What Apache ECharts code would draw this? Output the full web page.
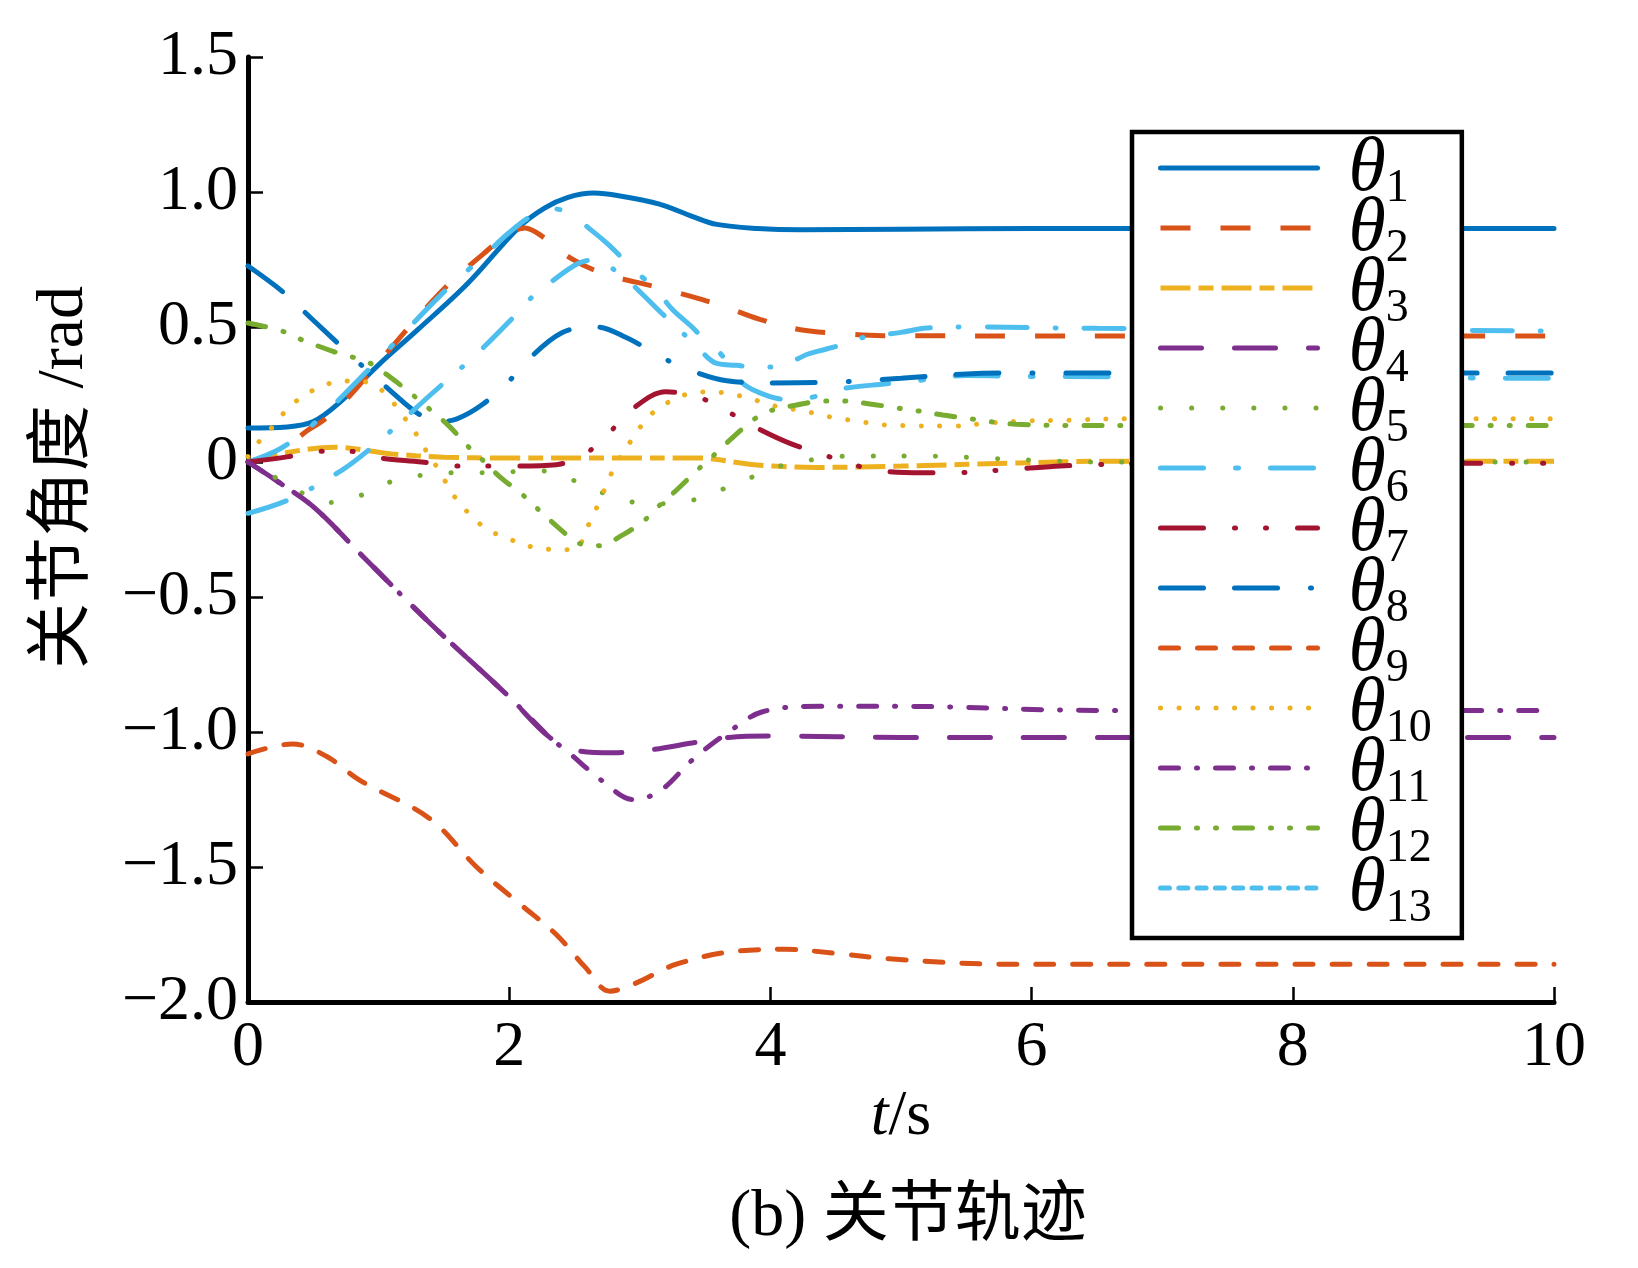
<!DOCTYPE html>
<html lang="zh">
<head>
    <meta charset="UTF-8">
    <title>关节轨迹</title>
    <script src="https://cdn.jsdelivr.net/npm/echarts@6/dist/echarts.min.js"></script>
    <style>
        html, body { margin: 0; padding: 0; background: #fff; }
        #chart { width: 1638px; height: 1268px; }
    </style>
</head>
<body>
<div id="chart"></div>
<script type="text/javascript">
    // 各关节角度 [t(s), rad]
    var theta1 = [[0,0.126],[0.3,0.13],[0.5,0.15],[0.7,0.22],[1.0,0.36],[1.3,0.49],[1.68,0.66],[2.07,0.867],[2.27,0.94],[2.45,0.98],[2.65,0.996],[2.85,0.985],[3.15,0.955],[3.4,0.91],[3.59,0.88],[3.9,0.865],[4.23,0.86],[5,0.862],[6,0.865],[10,0.865]];
    var theta2 = [[0,0],[0.25,0.04],[0.45,0.115],[0.57,0.152],[0.72,0.215],[0.95,0.34],[1.27,0.52],[1.54,0.66],[1.8,0.77],[1.98,0.84],[2.12,0.867],[2.27,0.83],[2.47,0.755],[2.71,0.70],[3.15,0.645],[3.59,0.585],[3.92,0.528],[4.23,0.49],[4.56,0.475],[4.86,0.468],[6,0.467],[10,0.467]];
    var theta3 = [[0,0],[0.3,0.035],[0.66,0.055],[1.1,0.03],[1.5,0.018],[2,0.015],[3.44,0.015],[3.84,-0.008],[4.03,-0.015],[4.35,-0.02],[5,-0.015],[5.89,-0.004],[6.6,0.003],[10,0.003]];
    var theta4 = [[0,0],[0.22,-0.07],[0.51,-0.17],[0.86,-0.34],[1.4,-0.6],[2.0,-0.87],[2.31,-1.02],[2.53,-1.07],[2.8,-1.077],[3.1,-1.065],[3.41,-1.04],[3.68,-1.02],[4.03,-1.015],[5,-1.02],[10,-1.02]];
    var theta5 = [[0,0],[0.19,-0.052],[0.41,-0.114],[0.63,-0.15],[0.85,-0.126],[1.07,-0.077],[1.29,-0.052],[1.51,-0.04],[1.77,-0.04],[2.24,-0.033],[2.47,-0.064],[2.68,-0.107],[2.9,-0.144],[3.12,-0.155],[3.38,-0.144],[3.6,-0.107],[3.82,-0.064],[4.04,-0.02],[4.27,0.004],[4.5,0.02],[4.74,0.022],[5.2,0.022],[5.7,0.013],[6.0,0.007],[6.5,0],[10,0]];
    var theta6 = [[0,0],[0.25,0.05],[0.5,0.14],[1.0,0.38],[1.5,0.63],[1.8,0.76],[2.0,0.85],[2.2,0.92],[2.35,0.937],[2.5,0.91],[2.6,0.87],[2.76,0.805],[2.96,0.71],[3.12,0.64],[3.25,0.565],[3.4,0.5],[3.52,0.44],[3.62,0.4],[3.77,0.3],[3.9,0.26],[4.1,0.233],[4.32,0.24],[4.53,0.27],[4.89,0.29],[5.1,0.3],[5.5,0.32],[6,0.317],[10,0.31]];
    var theta7 = [[0,0],[0.31,0.02],[0.54,0.04],[0.77,0.04],[1.01,0.015],[1.33,0],[1.57,-0.015],[2.07,-0.015],[2.36,-0.01],[2.5,0.01],[2.6,0.035],[2.77,0.11],[2.94,0.195],[3.2,0.26],[3.45,0.24],[3.66,0.19],[3.88,0.13],[4.16,0.067],[4.39,0.03],[4.61,-0.007],[4.86,-0.033],[5.17,-0.04],[5.41,-0.04],[5.66,-0.033],[5.89,-0.026],[6.22,-0.015],[6.45,-0.01],[7,-0.005],[10,-0.005]];
    var theta8 = [[0,0.726],[0.26,0.633],[0.5,0.525],[0.85,0.367],[1.1,0.26],[1.3,0.18],[1.45,0.15],[1.6,0.16],[1.8,0.215],[2.0,0.3],[2.12,0.367],[2.4,0.478],[2.67,0.50],[2.9,0.46],[3.14,0.396],[3.33,0.35],[3.68,0.3],[4.0,0.293],[4.5,0.296],[5.0,0.31],[5.5,0.326],[6,0.33],[10,0.33]];
    var theta9 = [[0,-1.081],[0.34,-1.044],[0.6,-1.09],[0.86,-1.18],[1.39,-1.32],[1.75,-1.50],[2.09,-1.64],[2.36,-1.75],[2.58,-1.87],[2.77,-1.96],[2.97,-1.93],[3.28,-1.86],[3.77,-1.81],[4.12,-1.805],[4.5,-1.82],[4.91,-1.84],[5.79,-1.86],[10,-1.86]];
    var theta10 = [[0,0.02],[0.07,0.067],[0.18,0.126],[0.31,0.2],[0.44,0.25],[0.57,0.28],[0.7,0.3],[0.85,0.3],[0.98,0.28],[1.08,0.24],[1.17,0.18],[1.26,0.126],[1.33,0.067],[1.48,-0.044],[1.55,-0.107],[1.64,-0.163],[1.73,-0.21],[1.85,-0.255],[1.98,-0.28],[2.1,-0.305],[2.24,-0.32],[2.39,-0.325],[2.52,-0.32],[2.58,-0.26],[2.64,-0.2],[2.7,-0.137],[2.75,-0.078],[2.81,-0.015],[2.89,0.048],[2.97,0.104],[3.05,0.16],[3.15,0.2],[3.28,0.237],[3.41,0.256],[3.56,0.26],[3.71,0.25],[3.84,0.237],[3.97,0.215],[4.11,0.2],[4.25,0.19],[4.39,0.174],[4.53,0.16],[4.67,0.152],[4.81,0.14],[5.0,0.135],[5.4,0.133],[5.66,0.144],[5.94,0.152],[6.3,0.155],[6.64,0.16],[10,0.16]];
    var theta11 = [[0,0],[0.22,-0.07],[0.51,-0.17],[0.86,-0.34],[1.4,-0.6],[2.0,-0.87],[2.31,-1.02],[2.44,-1.07],[2.71,-1.18],[2.95,-1.25],[3.15,-1.22],[3.41,-1.10],[3.68,-1.0],[3.94,-0.925],[4.38,-0.905],[5,-0.905],[6.5,-0.92],[10,-0.92]];
    var theta12 = [[0,0.515],[0.26,0.485],[0.4,0.455],[0.65,0.41],[0.79,0.39],[0.92,0.37],[1.1,0.31],[1.27,0.245],[1.38,0.2],[1.54,0.133],[1.68,0.06],[1.78,0.015],[1.94,-0.06],[2.1,-0.12],[2.21,-0.17],[2.37,-0.24],[2.53,-0.3],[2.68,-0.31],[2.87,-0.27],[3.05,-0.21],[3.13,-0.17],[3.29,-0.1],[3.44,-0.03],[3.56,0.022],[3.71,0.09],[3.88,0.16],[4.0,0.19],[4.19,0.21],[4.41,0.226],[4.55,0.226],[4.76,0.215],[4.97,0.2],[5.12,0.19],[5.32,0.174],[5.53,0.16],[5.67,0.15],[5.88,0.14],[6.3,0.135],[10,0.135]];
    var theta13 = [[0,-0.19],[0.32,-0.138],[0.72,-0.03],[0.98,0.067],[1.16,0.144],[1.4,0.25],[1.75,0.40],[2.0,0.52],[2.15,0.6],[2.33,0.67],[2.52,0.733],[2.64,0.748],[2.85,0.696],[3.01,0.626],[3.17,0.55],[3.42,0.437],[3.59,0.365],[3.74,0.358],[3.9,0.35],[4.1,0.36],[4.29,0.4],[4.49,0.426],[4.7,0.46],[5.0,0.48],[5.2,0.496],[5.5,0.5],[6.5,0.495],[10,0.485]];

    var seriesNames = ['θ1','θ2','θ3','θ4','θ5','θ6','θ7','θ8','θ9','θ10','θ11','θ12','θ13'];
    var seriesData = [theta1, theta2, theta3, theta4, theta5, theta6, theta7, theta8, theta9, theta10, theta11, theta12, theta13];

    // MATLAB 默认配色
    var colors = ['#0072BD','#D95319','#EDB120','#7E2F8E','#77AC30','#4DBEEE','#A2142F',
                  '#0072BD','#D95319','#EDB120','#7E2F8E','#77AC30','#4DBEEE'];
    var dashes = ['solid', [30,30], [30,8,15,8], [41,33], [0.1,31], [43,32,3,32], [43,31,1,30,1,31],
                  [43,31,43,33,1,33], [18,19], [0.1,18.4], [18,18,1,18], [18,18,1,18,1,18], [40,28,1,28]];
    var caps = ['round','butt','butt','round','round','round','round','round','round','round','round','round','round'];

    var serif = "'Liberation Serif', 'Noto Sans CJK SC'";

    var myChart = echarts.init(document.getElementById('chart'));

    var series = [];
    for (var i = 0; i < seriesData.length; i++) {
        series.push({
            name: seriesNames[i],
            type: 'line',
            data: seriesData[i],
            symbol: 'none',
            smooth: 0.35,
            lineStyle: { color: colors[i], width: 5, type: dashes[i], cap: caps[i] },
            itemStyle: { color: colors[i] }
        });
    }

    var legendData = seriesNames.map(function (n, i) {
        if (i === 12) return { name: n, lineStyle: { type: [9, 9.3] } };
        return n;
    });

    myChart.setOption({
        animation: false,
        title: {
            text: '(b) 关节轨迹',
            left: 903,
            top: 1180,
            textAlign: 'center',
            textStyle: { fontFamily: serif, fontSize: 66, fontWeight: 'normal', color: '#000' }
        },
        grid: { left: 248, right: 84, top: 57, bottom: 266, containLabel: false },
        legend: {
            orient: 'vertical',
            left: 1132,
            top: 132,
            data: legendData,
            selectedMode: false,
            itemWidth: 157,
            itemHeight: 10,
            itemGap: -20,
            padding: [0, 30, 6, 26],
            borderColor: '#000',
            borderWidth: 4.5,
            backgroundColor: '#fff',
            lineStyle: { width: 5 },
            itemStyle: { color: 'rgba(0,0,0,0)', borderColor: 'rgba(0,0,0,0)', borderWidth: 0, opacity: 0 },
            formatter: function (n) { return '{t|θ}{s|' + n.slice(1) + '}'; },
            textStyle: {
                color: '#000',
                rich: {
                    t: { fontFamily: serif, fontStyle: 'italic', fontSize: 76, verticalAlign: 'top', padding: [8, 0, 4, 26], color: '#000' },
                    s: { fontFamily: serif, fontSize: 46, verticalAlign: 'bottom', color: '#000' }
                }
            }
        },
        xAxis: {
            type: 'value',
            min: 0,
            max: 10,
            interval: 2,
            name: '{i|t}/s',
            nameLocation: 'middle',
            nameGap: 82,
            nameTextStyle: {
                fontFamily: serif, fontSize: 64, color: '#000',
                rich: { i: { fontFamily: serif, fontStyle: 'italic', fontSize: 64, color: '#000' } }
            },
            axisLine: { show: true, onZero: false, lineStyle: { color: '#000', width: 5 } },
            axisTick: { inside: true, length: 15, lineStyle: { color: '#000', width: 2.5 } },
            splitLine: { show: false },
            axisLabel: { fontFamily: serif, fontSize: 64, color: '#000', margin: 14 }
        },
        yAxis: {
            type: 'value',
            min: -2,
            max: 1.5,
            interval: 0.5,
            name: '关节角度 /rad',
            nameLocation: 'middle',
            nameGap: 150,
            nameTextStyle: { fontFamily: serif, fontSize: 66, color: '#000', padding: [0, 0, 0, 104] },
            axisLine: { show: true, onZero: false, lineStyle: { color: '#000', width: 5 } },
            axisTick: { inside: true, length: 15, lineStyle: { color: '#000', width: 2.5 } },
            splitLine: { show: false },
            axisLabel: {
                fontFamily: serif, fontSize: 64, color: '#000', margin: 10,
                formatter: function (v) { return v === 0 ? '0' : v.toFixed(1).replace('-', '\u2212'); }
            }
        },
        series: series
    });
</script>
</body>
</html>
